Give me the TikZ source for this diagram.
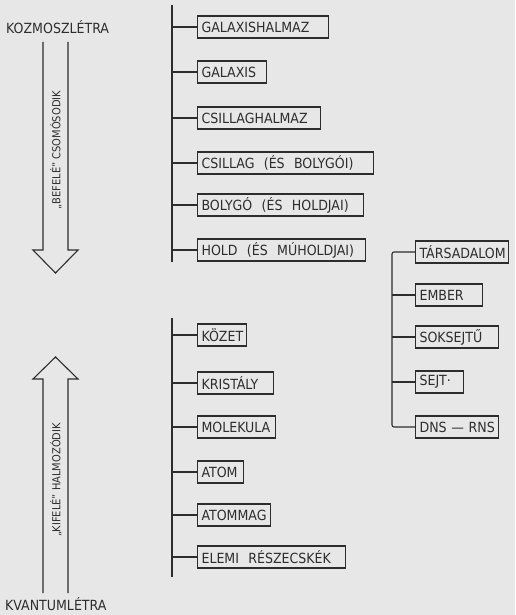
\documentclass[tikz,border=0pt]{standalone}
\usepackage{fontspec}
\setmainfont{DejaVu Sans Condensed}
\definecolor{paper}{RGB}{231,231,231}
\definecolor{ink}{RGB}{45,45,45}
\tikzset{
    levelbox/.style={draw=ink, line width=1.1pt, anchor=west, inner xsep=4pt,
        inner ysep=0pt, minimum height=22pt, align=left, text=ink, font=\fontsize{14}{16}\selectfont},
    branch/.style={draw=ink, line width=1.1pt},
    ladder/.style={font=\fontsize{14}{16}\selectfont, text=ink, anchor=west, inner sep=0pt},
    arrowtext/.style={rotate=90, font=\fontsize{11}{13}\selectfont, text=ink},
    bigarrow/.style={draw=ink, line width=1.1pt, line join=miter}
}
\begin{document}
\begin{tikzpicture}[x=1pt, y=-1pt]
    \fill[paper] (0,0) rectangle (515,615);
    \useasboundingbox (0,0) rectangle (515,615);

    % Ladder ends
    \node[ladder] (kozmo) at (6,27) {KOZMOSZLÉTRA};
    \node[ladder] (kvant) at (5,604) {KVANTUMLÉTRA};

    % Inward arrow
    \draw[bigarrow] (43,42) -- (43,250) -- (33,250) -- (55.5,273) -- (78,250) -- (68,250) -- (68,42);
    \node[arrowtext] (befele) at (56,150) {„BEFELÉ” CSOMÓSODIK};

    % Outward arrow
    \draw[bigarrow] (43,593) -- (43,379) -- (33,379) -- (55.5,357) -- (78,379) -- (68,379) -- (68,593);
    \node[arrowtext] (kifele) at (56,480) {„KIFELÉ” HALMOZÓDIK};

    % Cosmic branch
    \coordinate (cosmtop) at (172,5);
    \coordinate (cosmbot) at (172,262);
    \draw[branch] (cosmtop) -- (cosmbot);
    \node[levelbox, text width=123pt] (galhalm) at (197,27) {GALAXISHALMAZ};
    \node[levelbox, text width=61pt] (galaxis) at (197,72) {GALAXIS};
    \node[levelbox, text width=115pt] (csilhalm) at (197,118) {CSILLAGHALMAZ};
    \node[levelbox, text width=168pt] (csillag) at (197,163) {CSILLAG \ (ÉS \ BOLYGÓI)};
    \node[levelbox, text width=158pt] (bolygo) at (197,205) {BOLYGÓ \ (ÉS \ HOLDJAI)};
    \node[levelbox, text width=160pt] (hold) at (197,250) {HOLD \ (ÉS \ MÚHOLDJAI)};
    \foreach \n in {galhalm, galaxis, csilhalm, csillag, bolygo, hold}
        \draw[branch] (\n.west) -- (\n.west -| cosmtop);

    % Quantum branch
    \coordinate (kvtop) at (172,318);
    \coordinate (kvbot) at (172,577);
    \draw[branch] (kvtop) -- (kvbot);
    \node[levelbox, text width=41pt] (kozet) at (197,335) {KÖZET};
    \node[levelbox, text width=68pt] (krist) at (197,383) {KRISTÁLY};
    \node[levelbox, text width=70pt] (molek) at (197,427) {MOLEKULA};
    \node[levelbox, text width=38pt] (atom) at (197,472) {ATOM};
    \node[levelbox, text width=65pt] (atommag) at (197,515) {ATOMMAG};
    \node[levelbox, text width=140pt] (elemi) at (197,557) {ELEMI \ RÉSZECSKÉK};
    \foreach \n in {kozet, krist, molek, atom, atommag, elemi}
        \draw[branch] (\n.west) -- (\n.west -| kvtop);

    % Living branch
    \coordinate (elx) at (392,0);
    \node[levelbox, text width=85pt] (tars) at (415,252) {TÁRSADALOM};
    \node[levelbox, text width=59pt] (ember) at (415,295) {EMBER};
    \node[levelbox, text width=75pt] (sokse) at (415,337) {SOKSEJTŰ};
    \node[levelbox, text width=40pt] (sejt) at (415,382) {SEJT·};
    \node[levelbox, text width=75pt] (dns) at (415,427) {\mbox{DNS — RNS}};
    \draw[branch, rounded corners=2pt] (tars.west) -- (tars.west -| elx) -- (dns.west -| elx) -- (dns.west);
    \foreach \n in {ember, sokse, sejt}
        \draw[branch] (\n.west) -- (\n.west -| elx);
\end{tikzpicture}
\end{document}
